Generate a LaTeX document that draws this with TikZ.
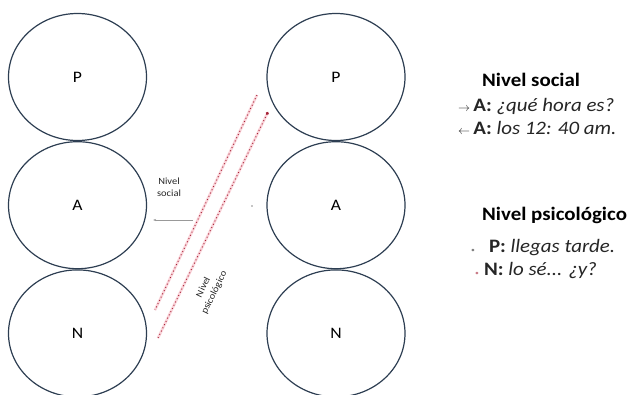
\documentclass[tikz,border=0pt]{standalone}
\usepackage{fontspec}
\setmainfont{Carlito}[FakeStretch=1.1]
\usetikzlibrary{arrows.meta,positioning,shapes.geometric,calc}
\definecolor{borde}{RGB}{45,62,82}
\definecolor{rosa}{RGB}{250,212,218}
\definecolor{rojo}{RGB}{165,35,55}

\begin{document}
\begin{tikzpicture}[
                x=1pt, y=-1pt,
                nivel/.style={
                        ellipse,
                        draw=borde,
                        line width=1.2pt,
                        minimum width=138pt,
                        minimum height=127pt,
                        inner sep=0pt,
                        font=\fontsize{16}{18}\selectfont
                    },
                txt/.style={anchor=west, inner sep=0pt, text=black!85,
                        font=\fontsize{19}{22}\selectfont},
                tit/.style={txt, text=black, font=\fontsize{19}{22}\selectfont\bfseries},
                lbl/.style={inner sep=0pt, align=center, text=black!85,
                        font=\fontsize{9.5}{12}\selectfont},
                psi/.style={draw=rojo, line width=0.9pt, dash pattern=on 1pt off 2.6pt,
                        preaction={draw=rosa, line width=2.6pt, solid}},
                socflecha/.style={draw=black!40, line width=0.6pt, -{Stealth[length=3pt]}}
            ]

            \useasboundingbox (0,0) rectangle (644,394);

            % Columna izquierda
            \node[nivel] (lP) at (77.5,77) {P};
            \node[nivel, below=0pt of lP] (lA) {A};
            \node[nivel, below=0pt of lA] (lN) {N};

            % Columna derecha
            \node[nivel] (rP) at (336,77) {P};
            \node[nivel, below=0pt of rP] (rA) {A};
            \node[nivel, below=0pt of rA] (rN) {N};

            % Nivel social
            \coordinate (soc) at (193,220);
            \draw[socflecha, shorten >=6pt] (soc) -- (soc -| lA.east);
            \node[lbl] (lsoc) at (169,187) {Nivel\\social};
            \fill[black!45] (252,206) circle (0.8pt);

            % Nivel psicologico
            \coordinate (psiA1) at (257,95);
            \coordinate (psiA2) at (155,310);
            \coordinate (psiB1) at (158,338);
            \coordinate (psiB2) at (268,112);
            \draw[psi] (psiA1) -- (psiA2);
            \draw[psi, -{Circle[length=3pt]}] (psiB1) -- (psiB2);
            \node[lbl, rotate=64] (lpsi) at (209,290) {Nivel\\psicológico};

            % Texto
            \node[tit] (tsoc) at (482,80) {Nivel social};
            \node[txt] (t1) at (458,106) {{\fontsize{12}{12}\selectfont$\rightarrow$}\,\textbf{A:} \textit{¿qué hora es?}};
            \node[txt] (t2) at (458,128) {{\fontsize{12}{12}\selectfont$\leftarrow$}\,\textbf{A:} \textit{los 12: 40 am.}};
            \node[tit] (tpsi) at (482,215) {Nivel psicológico};
            \node[txt] (t3) at (471,248) {{\color{black!50}\fontsize{7}{7}\selectfont\textbullet}\hspace{14pt}\textbf{P:} \textit{llegas tarde.}};
            \node[txt] (t4) at (475,270) {{\color{rojo!60}\fontsize{7}{7}\selectfont\textbullet}\hspace{5pt}\textbf{N:} \textit{lo sé... ¿y?}};

        \end{tikzpicture}
\end{document}
